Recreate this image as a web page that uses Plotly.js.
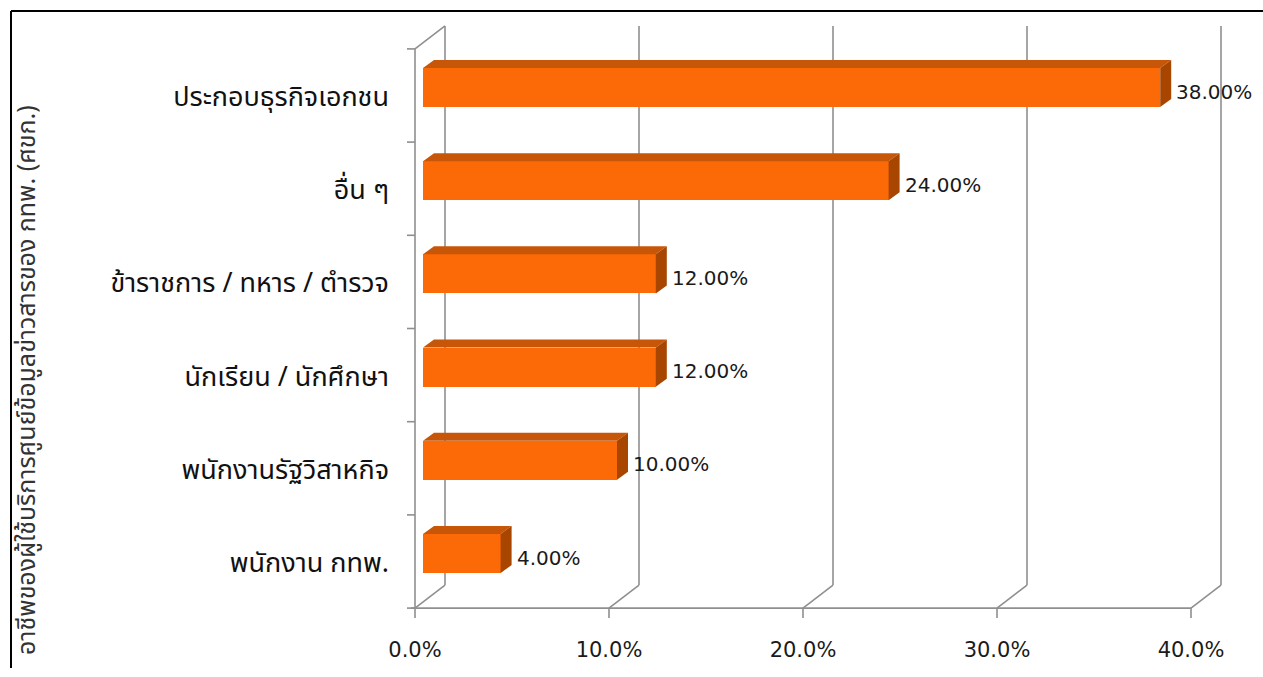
<!DOCTYPE html>
<html><head><meta charset="utf-8">
<script src="https://cdn.plot.ly/plotly-3.0.1.min.js"></script>
<style>html,body{margin:0;padding:0;background:#fff;overflow:hidden}#chart{width:1263px;height:677px}</style>
</head><body><div id="chart"></div>
<script>
// ---- data ----
const categories = ["ประกอบธุรกิจเอกชน", "อื่น ๆ", "ข้าราชการ / ทหาร / ตำรวจ", "นักเรียน / นักศึกษา", "พนักงานรัฐวิสาหกิจ", "พนักงาน กทพ."];
const shares = [0.38, 0.24, 0.12, 0.12, 0.10, 0.04];
const tickValues = [0, 0.1, 0.2, 0.3, 0.4];
const tickLabels = ["0.0%", "10.0%", "20.0%", "30.0%", "40.0%"];
const axisTitle = "อาชีพของผู้ใช้บริการศูนย์ข้อมูลข่าวสารของ กทพ. (ศขก.)";

// ---- geometry (pixels) ----
const W = 1263, H = 677;
const X0 = 423, PPX = 1940;     // pixel of value 0 on bar face, px per unit
const Y0 = 87.5, PPY = 93.2;    // pixel of first category centre, px per category
const PL = 398, PR = 1240, PT = 20, PB = 625;
const FRONT = {dx: -8, dy: 8}, BACK = {dx: 22, dy: -15};
const BAR_DEPTH = {dx: 11, dy: -8};
const BAR_W = 0.42;
const xv = px => (px - X0) / PPX;
const yv = py => (py - Y0) / PPY;
const dX = px => px / PPX, dY = py => py / PPY;
const nCat = categories.length;
const firstEdge = -0.5, lastEdge = nCat - 0.5;

const FONT = "Tahoma, 'Noto Sans Thai', 'DejaVu Sans', 'Noto Sans', sans-serif";
const NUMFONT = "'DejaVu Sans', Tahoma, sans-serif";
const GRID = {color: '#8f8f8f', width: 1.6};
const C_FRONT = '#fb6a06', C_TOP = '#c75608', C_SIDE = '#a84600';

function P(v, c, off) { return [v + dX(off.dx), c + dY(off.dy)]; }
function line(a, b, layer) {
  return {type: 'line', xref: 'x', yref: 'y', x0: a[0], y0: a[1], x1: b[0], y1: b[1], line: GRID, layer: layer || 'below'};
}
function path(pts, color) {
  const d = pts.map((p, k) => (k ? 'L' : 'M') + p[0] + ',' + p[1]).join(' ') + ' Z';
  return {type: 'path', xref: 'x', yref: 'y', path: d, fillcolor: color, line: {width: 0}, layer: 'above'};
}

const shapes = [];
// back wall gridlines and floor diagonals
tickValues.forEach(v => {
  shapes.push(line(P(v, firstEdge, BACK), P(v, lastEdge, BACK)));
  shapes.push(line(P(v, lastEdge, FRONT), P(v, lastEdge, BACK)));
  // tick marks below floor
  const f = P(v, lastEdge, FRONT);
  shapes.push(line(f, [f[0], f[1] + dY(10)]));
});
// left wall
shapes.push(line(P(0, firstEdge, FRONT), P(0, lastEdge, FRONT)));
shapes.push(line(P(0, firstEdge, FRONT), P(0, firstEdge, BACK)));
// floor front axis
const fa = P(0, lastEdge, FRONT), fb = P(tickValues[tickValues.length - 1], lastEdge, FRONT);
shapes.push(line([fa[0] - dX(4), fa[1]], fb));
// category ticks
for (let k = 0; k <= nCat; k++) {
  const p = P(0, k - 0.5, FRONT);
  shapes.push(line([p[0] - dX(8), p[1]], p));
}
// 3D bar faces
const h = BAR_W / 2;
shares.forEach((s, i) => {
  const t0 = [0, i - h], t1 = [s, i - h], b1 = [s, i + h];
  const D = q => [q[0] + dX(BAR_DEPTH.dx), q[1] + dY(BAR_DEPTH.dy)];
  shapes.push(path([t0, t1, D(t1), D(t0)], C_TOP));
  shapes.push(path([t1, D(t1), D(b1), b1], C_SIDE));
});

const annotations = shares.map((s, i) => ({
  x: s, y: categories[i], xref: 'x', yref: 'y', xanchor: 'left', yanchor: 'middle',
  xshift: BAR_DEPTH.dx + 3, yshift: -4, showarrow: false,
  text: (s * 100).toFixed(2) + '%', font: {family: NUMFONT, size: 20, color: '#1a1a1a'}
}));
annotations.push({
  xref: 'paper', yref: 'paper', x: (27 - PL) / (PR - PL), y: (PB - 380) / (PB - PT),
  xanchor: 'center', yanchor: 'middle', textangle: -90, showarrow: false,
  text: axisTitle, font: {family: FONT, size: 25, color: '#333'}
});
// frame
shapes.push({type: 'line', xref: 'paper', yref: 'paper', x0: (11 - PL) / (PR - PL), x1: (W - PL) / (PR - PL),
  y0: (PB - 11) / (PB - PT), y1: (PB - 11) / (PB - PT), line: {color: '#000', width: 2}, layer: 'above'});
shapes.push({type: 'line', xref: 'paper', yref: 'paper', x0: (11 - PL) / (PR - PL), x1: (11 - PL) / (PR - PL),
  y0: (PB - 11) / (PB - PT), y1: (PB - 668) / (PB - PT), line: {color: '#000', width: 2}, layer: 'above'});

const trace = {
  type: 'bar', orientation: 'h', y: categories, x: shares, width: BAR_W,
  marker: {color: C_FRONT, line: {width: 0}}, hoverinfo: 'skip'
};

const layout = {
  width: W, height: H, margin: {l: PL, r: W - PR, t: PT, b: H - PB, pad: 0},
  paper_bgcolor: '#fff', plot_bgcolor: 'rgba(0,0,0,0)', showlegend: false,
  xaxis: {range: [xv(PL), xv(PR)], tickvals: tickValues.map(v => v + dX(FRONT.dx)), ticktext: tickLabels,
    showgrid: false, zeroline: false, showline: false, ticks: '', ticklabelstandoff: 10,
    tickfont: {family: NUMFONT, size: 21, color: '#1a1a1a'}, fixedrange: true},
  yaxis: {type: 'category', range: [yv(PB), yv(PT)], showgrid: false, zeroline: false, showline: false, ticks: '',
    ticklabelshift: -9, ticklabelstandoff: 8,
    tickfont: {family: FONT, size: 27, color: '#111'}, fixedrange: true},
  shapes: shapes, annotations: annotations, bargap: 0
};
Plotly.newPlot('chart', [trace], layout, {displayModeBar: false, staticPlot: true});
</script></body></html>
